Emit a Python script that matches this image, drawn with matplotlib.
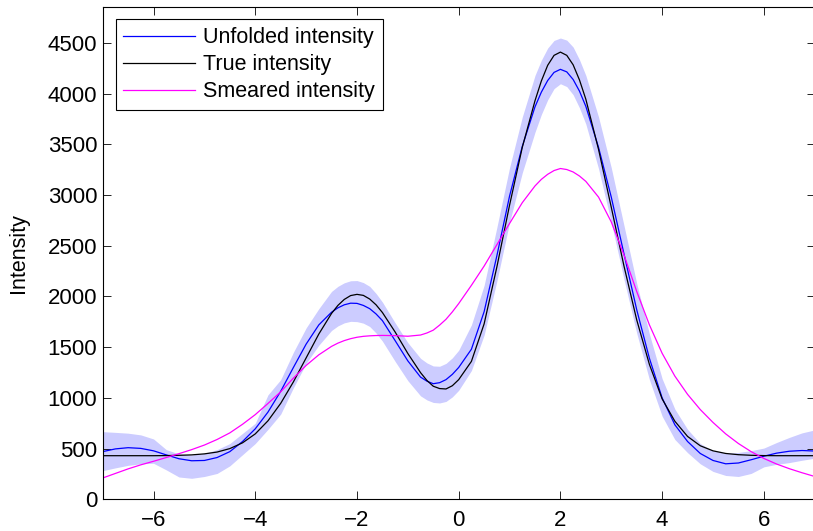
import matplotlib
matplotlib.use('Agg')
import matplotlib.pyplot as plt

plt.rcParams['font.family'] = ['Liberation Sans', 'DejaVu Sans']

# sample positions (finer near the peaks and the dip)
x = [-7, -6.75, -6.5, -6.25, -6, -5.75, -5.5, -5.25, -5, -4.75,
     -4.5, -4.25, -4, -3.75, -3.5, -3.25, -3, -2.75, -2.5, -2.375,
     -2.25, -2.125, -2, -1.875, -1.75, -1.625, -1.5, -1.25, -1, -0.75,
     -0.625, -0.5, -0.375, -0.25, -0.125, 0, 0.25, 0.5, 0.75, 1,
     1.25, 1.5, 1.625, 1.75, 1.875, 2, 2.125, 2.25, 2.375, 2.5,
     2.75, 3, 3.25, 3.5, 3.75, 4, 4.25, 4.5, 4.75, 5,
     5.25, 5.5, 5.75, 6, 6.25, 6.5, 6.75, 7]

true_int = [430, 430, 430, 430, 430, 431, 434, 438, 448, 466,
            500, 557, 645, 774, 946, 1158, 1394, 1630, 1833, 1912,
            1971, 2009, 2021, 2011, 1975, 1918, 1842, 1650, 1438, 1249,
            1172, 1115, 1092, 1088, 1120, 1180, 1360, 1730, 2290, 2900,
            3470, 3930, 4125, 4280, 4378, 4410, 4378, 4285, 4135, 3945,
            3450, 2880, 2300, 1770, 1330, 990, 770, 620, 528, 478,
            452, 440, 434, 431, 430, 430, 430, 430]

unfolded = [470, 497, 509, 502, 478, 438, 400, 380, 383, 412,
            470, 570, 695, 860, 1065, 1300, 1530, 1720, 1845, 1888,
            1918, 1934, 1932, 1912, 1880, 1828, 1762, 1565, 1365, 1205,
            1165, 1140, 1150, 1180, 1232, 1300, 1480, 1850, 2400, 2990,
            3480, 3870, 4015, 4130, 4210, 4240, 4215, 4140, 4025, 3875,
            3470, 2980, 2420, 1870, 1390, 1000, 735, 570, 452, 383,
            350, 358, 390, 425, 455, 474, 481, 476]

band_hi = [667, 660, 652, 635, 595, 490, 447, 437, 452, 490,
           550, 650, 750, 1030, 1180, 1450, 1690, 1880, 2050, 2100,
           2135, 2155, 2157, 2137, 2100, 2030, 1945, 1740, 1545, 1390,
           1345, 1315, 1312, 1340, 1395, 1470, 1720, 2110, 2680, 3270,
           3770, 4180, 4330, 4450, 4525, 4549, 4528, 4460, 4335, 4180,
           3770, 3270, 2700, 2130, 1630, 1190, 890, 690, 550, 480,
           456, 462, 480, 505, 560, 610, 655, 684]

band_lo = [282, 310, 335, 350, 355, 290, 220, 207, 225, 255,
           330, 440, 550, 690, 840, 1100, 1340, 1520, 1665, 1710,
           1740, 1755, 1752, 1737, 1704, 1640, 1560, 1360, 1170, 1020,
           980, 955, 950, 965, 1010, 1075, 1270, 1620, 2150, 2730,
           3220, 3620, 3795, 3940, 4050, 4098, 4070, 3990, 3860, 3700,
           3260, 2730, 2170, 1640, 1180, 820, 590, 460, 350, 275,
           235, 225, 255, 320, 345, 362, 385, 405]

smeared = [210, 255, 300, 340, 375, 412, 450, 490, 535, 590,
           655, 740, 835, 945, 1060, 1195, 1320, 1425, 1508, 1540,
           1565, 1584, 1598, 1607, 1612, 1615, 1616, 1614, 1608, 1620,
           1640, 1668, 1718, 1775, 1848, 1930, 2110, 2300, 2510, 2720,
           2925, 3090, 3155, 3205, 3242, 3262, 3252, 3228, 3188, 3135,
           2980, 2735, 2410, 2050, 1720, 1440, 1215, 1035, 885, 758,
           645, 550, 470, 403, 348, 302, 262, 225]

fig = plt.figure(figsize=(8.13, 5.31), dpi=100)
ax = fig.add_axes([0.1263, 0.0597, 0.8758, 0.9262])

ax.fill_between(x, band_lo, band_hi, color=(0.8, 0.8, 1.0), linewidth=0)
ax.plot(x, unfolded, color='blue', lw=0.9, label='Unfolded intensity')
ax.plot(x, true_int, color='black', lw=0.9, label='True intensity')
ax.plot(x, smeared, color='magenta', lw=0.9, label='Smeared intensity')

ax.set_xlim(-7, 7)
ax.set_ylim(0, 4850)
ax.set_xticks([-6, -4, -2, 0, 2, 4, 6])
ax.set_yticks(range(0, 5000, 500))
ax.tick_params(direction='in', length=5.5, width=0.6, labelsize=16,
               top=True, right=True)
ax.tick_params(axis='x', pad=7.5)
ax.tick_params(axis='y', pad=4)
for s in ax.spines.values():
    s.set_linewidth(0.8)

ax.set_ylabel('Intensity', fontsize=15.5)
ax.yaxis.set_label_coords(-0.103, 0.5)

leg = ax.legend(loc='upper left', bbox_to_anchor=(0.0183, 0.976),
                borderaxespad=0, fontsize=15.5, handlelength=3.3,
                handletextpad=0.4, labelspacing=0.28, borderpad=0.36,
                fancybox=False, framealpha=1, edgecolor='black')
leg.get_frame().set_linewidth(0.8)

fig.savefig('out.png', dpi=100)
